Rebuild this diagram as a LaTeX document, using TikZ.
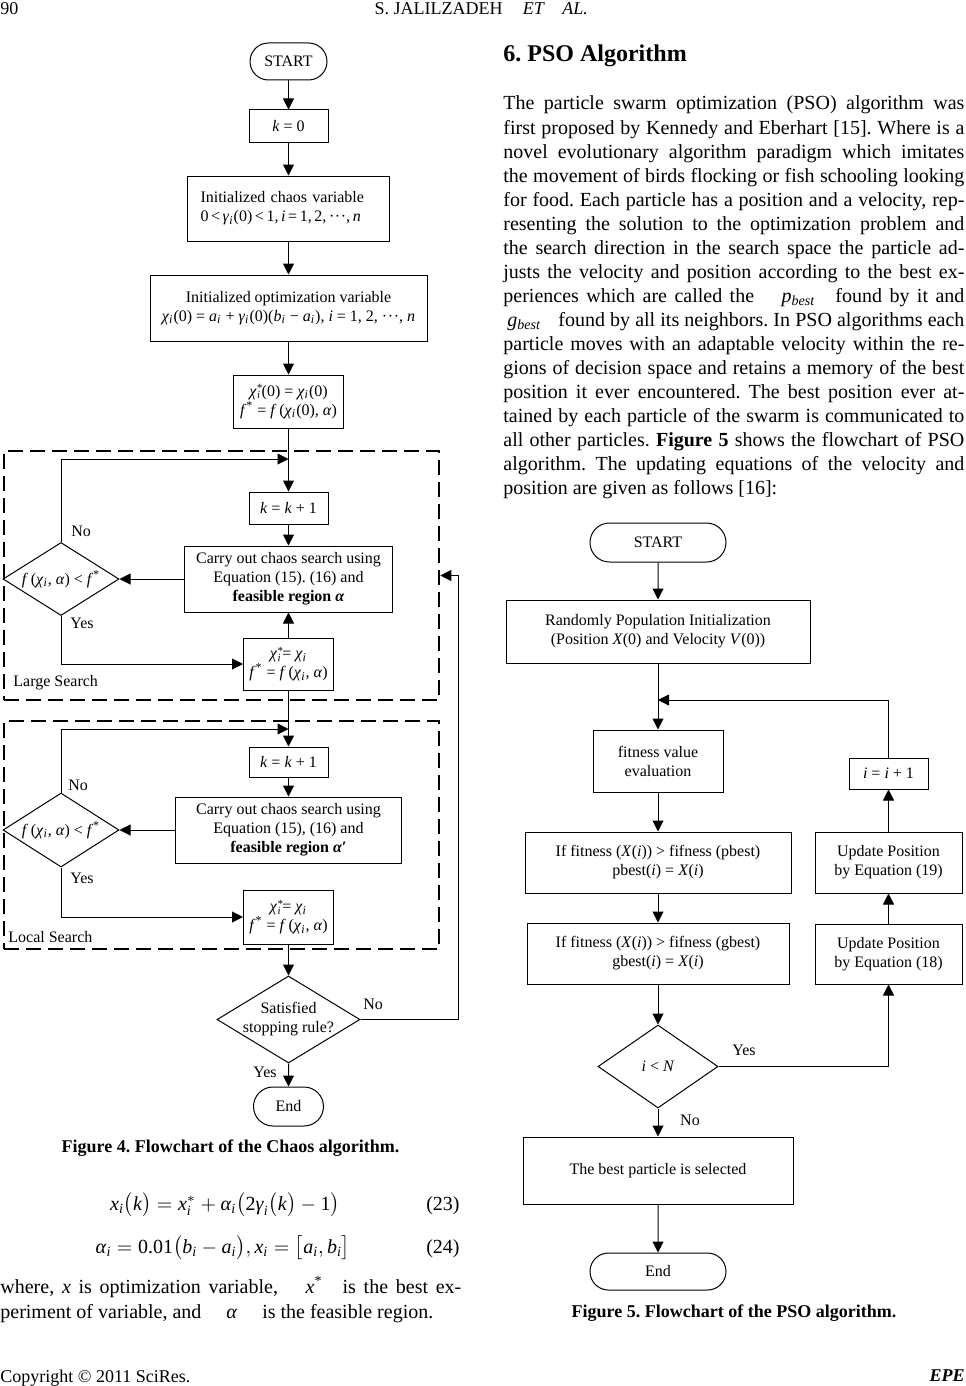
\documentclass[tikz,border=0pt]{standalone}
\usepackage{amsmath}
\usepackage{fontspec}
\setmainfont{Liberation Serif}
\usetikzlibrary{shapes.geometric,shapes.misc,arrows.meta}
\frenchspacing
\newcommand\ti[1]{\text{\textit{#1}}}
\newcommand\sub[1]{\textsubscript{\textit{#1}}}
\newcommand\jline[1]{\makebox[230.5pt][s]{#1}}
\newcommand\cds{·\kern0.3pt·\kern0.3pt·}
\newcommand\chistar{\textit{χ}\kern0.2pt\rlap{\raisebox{2.2pt}{\fontsize{5.5}{5}\selectfont*}}\raisebox{-1.4pt}{\fontsize{5.5}{5}\selectfont\textit{i}}\kern0.8pt}
\tikzset{
  fbox/.style={draw, line width=0.5pt, inner sep=0pt, align=center, font=\fontsize{8}{9.5}\selectfont},
  term/.style={fbox, rounded rectangle},
  dia/.style={draw, diamond, inner sep=0pt, line width=0.5pt},
  arr/.style={-{Triangle[length=5.5pt,width=5.5pt]}, line width=0.5pt},
  dbox/.style={draw, line width=1.3pt, dash pattern=on 7.5pt off 3.5pt, inner sep=0pt},
  lab/.style={font=\fontsize{8}{9.5}\selectfont, inner sep=0pt, align=center},
  body/.style={font=\fontsize{10}{12}\selectfont, inner sep=0pt, anchor=base west},
  small/.style={font=\fontsize{9}{11}\selectfont, inner sep=0pt},
}
\begin{document}
\begin{tikzpicture}[x=0.5pt,y=-0.5pt]
\useasboundingbox (0,0) rectangle (965,1386);
\fill[white] (0,0) rectangle (965,1386);

% header / footer
\node[small, anchor=base west] (pg) at (0,15) {90};
\node[small, anchor=base east] (hd1) at (503,15) {S. JALILZADEH};
\node[small, anchor=base] (hd2) at (534,15) {\textit{ET}};
\node[small, anchor=base] (hd3) at (575,15) {\textit{AL.}};
\node[small, anchor=base west] (cp) at (0,1382) {Copyright © 2011 SciRes.};
\node[small, anchor=base east] (epe) at (965,1381) {\textbf{\textit{EPE}}};

% ===== Figure 4 =====
\node[term, minimum width=38.5pt, minimum height=18.5pt] (s1) at (288.5,61.5) {START};
\node[fbox, minimum height=16pt, minimum width=39.5pt] (k0) at (288.5,126) {\textit{k} = 0};
\node[fbox, minimum width=101pt, minimum height=32.5pt, text width=88pt, align=left] (ic) at (288.5,208.5)
  {Initialized chaos variable\\\mbox{\spaceskip=1.3pt plus 0.2pt 0 < \textit{γ}\sub{i}(0) < 1, \textit{i} = 1, 2, \cds, \textit{n}}};
\node[fbox, minimum width=138.5pt, minimum height=33pt] (io) at (288.5,308)
  {Initialized optimization variable\\\textit{χ}\sub{i}(0) = \textit{a}\sub{i} + \textit{γ}\sub{i}(0)(\textit{b}\sub{i} − \textit{a}\sub{i}), \textit{i} = 1, 2, \cds, \textit{n}};
\node[fbox, minimum width=55pt, minimum height=26.5pt] (c0) at (288.5,401.5)
  {\chistar(0) = \textit{χ}\sub{i}(0)\\\textit{f}\textsuperscript{*} = \textit{f}\,(\textit{χ}\sub{i}(0), \textit{α})};

\node[dbox, minimum width=217.5pt, minimum height=124.5pt] (ls) at (221.5,575.5) {};
\coordinate (j1) at (288.5,459);
\node[fbox, minimum width=39.5pt, minimum height=16pt] (kk1) at (288.5,508) {\textit{k} = \textit{k} + 1};
\node[fbox, minimum width=104pt, minimum height=33pt] (ca1) at (288.5,579)
  {Carry out chaos search using\\Equation (15). (16) and\\\textbf{feasible region \textit{α}}};
\node[dia, minimum width=58pt, minimum height=36.5pt,
  label={[lab]center:\textit{f}\,(\textit{χ}\sub{i}, \textit{α}) < \textit{f}\textsuperscript{*}}] (d1) at (61,579) {};
\node[fbox, minimum width=45pt, minimum height=26pt] (ch1) at (288.5,664)
  {\chistar= \textit{χ}\sub{i}\\\textit{f}\textsuperscript{*} = \textit{f}\,(\textit{χ}\sub{i}, \textit{α})};
\node[lab, anchor=west] (no1) at (71,531) {No};
\node[lab, anchor=west] (yes1) at (70,623) {Yes};
\node[lab, anchor=west] (lsl) at (13,683) {Large Search};

\node[dbox, minimum width=217.5pt, minimum height=114pt] (lc) at (221.5,835) {};
\coordinate (j2) at (288.5,729);
\node[fbox, minimum width=39.5pt, minimum height=15pt] (kk2) at (288.5,762) {\textit{k} = \textit{k} + 1};
\node[fbox, minimum width=113pt, minimum height=33pt] (ca2) at (288.5,830)
  {Carry out chaos search using\\Equation (15), (16) and\\\textbf{feasible region \textit{α}′}};
\node[dia, minimum width=58pt, minimum height=37pt,
  label={[lab]center:\textit{f}\,(\textit{χ}\sub{i}, \textit{α}) < \textit{f}\textsuperscript{*}}] (d2) at (61,830) {};
\node[fbox, minimum width=45pt, minimum height=27pt] (ch2) at (288.5,917)
  {\chistar= \textit{χ}\sub{i}\\\textit{f}\textsuperscript{*} = \textit{f}\,(\textit{χ}\sub{i}, \textit{α})};
\node[lab, anchor=west] (no2) at (68,785) {No};
\node[lab, anchor=west] (yes2) at (70,878) {Yes};
\node[lab, anchor=west] (lcl) at (8,937) {Local Search};

\node[dia, minimum width=71.5pt, minimum height=43.5pt,
  label={[lab]center:Satisfied\\stopping rule?}] (st) at (288.5,1019.5) {};
\node[lab, anchor=west] (no3) at (363,1004) {No};
\node[lab, anchor=west] (yes3) at (253,1072) {Yes};
\node[term, minimum width=35pt, minimum height=19.5pt] (e1) at (288.5,1106.5) {End};
\coordinate (rx) at (458,575.5);

\draw[arr] (s1) -- (k0);
\draw[arr] (k0) -- (ic);
\draw[arr] (ic) -- (io);
\draw[arr] (io) -- (c0);
\draw[arr] (c0) -- (kk1);
\draw[arr] (d1.north) |- (j1);
\draw[arr] (kk1) -- (ca1);
\draw[arr] (ca1.west) -- (d1.east);
\draw[arr] (d1.south) |- (ch1.west);
\draw[arr] (ch1) -- (ca1);
\draw[arr] (ch1) -- (kk2);
\draw[arr] (d2.north) |- (j2);
\draw[arr] (kk2) -- (ca2);
\draw[arr] (ca2.west) -- (d2.east);
\draw[arr] (d2.south) |- (ch2.west);
\draw[arr] (ch2) -- (st);
\draw[arr] (st.east) -| (rx) -- (ls.east);
\draw[arr] (st) -- (e1);

% caption and equations
\node[font=\fontsize{9}{11}\selectfont\bfseries, anchor=base, inner sep=0pt] (cap4) at (230.5,1152) {Figure 4. Flowchart of the Chaos algorithm.};
\node[body, anchor=base] (eq23) at (225,1210)
  {$\ti{x}_{\ti{i}}\bigl(\ti{k}\bigr) = \ti{x}^{*}_{\ti{i}} + \ti{α}_{\ti{i}}\bigl(\text{2}\ti{γ}_{\ti{i}}\bigl(\ti{k}\bigr) - \text{1}\bigr)$};
\node[body, anchor=base east] (n23) at (460,1210) {(23)};
\node[body, anchor=base] (eq24) at (223,1253)
  {$\ti{α}_{\ti{i}} = \text{0.01}\bigl(\ti{b}_{\ti{i}} - \ti{a}_{\ti{i}}\bigr), \ti{x}_{\ti{i}} = \bigl[\ti{a}_{\ti{i}}, \ti{b}_{\ti{i}}\bigr]$};
\node[body, anchor=base east] (n24) at (460,1253) {(24)};
\node[body] (w1) at (0,1293) {\jline{where, \textit{x} is optimization variable, \quad\textit{x}\textsuperscript{*}\quad is the best ex-}};
\node[body] (w2) at (0,1318) {periment of variable, and \quad\textit{α}\quad\ is the feasible region.};

% ===== right column text =====
\node[font=\fontsize{12}{14}\selectfont\bfseries, anchor=base west, inner sep=0pt] (h6) at (503,62) {6. PSO Algorithm};
\foreach \t [count=\n] in {
 {\jline{The particle swarm optimization (PSO) algorithm was}},
 {\jline{first proposed by Kennedy and Eberhart [15]. Where is a}},
 {\jline{novel evolutionary algorithm paradigm which imitates}},
 {\jline{the movement of birds flocking or fish schooling looking}},
 {\jline{for food. Each particle has a position and a velocity, rep-}},
 {\jline{resenting the solution to the optimization problem and}},
 {\jline{the search direction in the search space the particle ad-}},
 {\jline{justs the velocity and position according to the best ex-}},
 {\jline{periences which are called the \quad\textit{p}\sub{best}\quad found by it and}},
 {\jline{\hspace{2pt}\textit{g}\sub{best}\hspace{6pt} found by all its neighbors. In PSO algorithms each}},
 {\jline{particle moves with an adaptable velocity within the re-}},
 {\jline{gions of decision space and retains a memory of the best}},
 {\jline{position it ever encountered. The best position ever at-}},
 {\jline{tained by each particle of the swarm is communicated to}},
 {\jline{all other particles. \textbf{Figure 5} shows the flowchart of PSO}},
 {\jline{algorithm. The updating equations of the velocity and}},
 {position are given as follows [16]:}}
 \node[body, name=t\n] at (503,{110+24*(\n-1)}) {\t};

% ===== Figure 5 =====
\node[term, minimum width=68pt, minimum height=19.5pt] (s2) at (658,542.5) {START};
\node[fbox, minimum width=152pt, minimum height=31.5pt] (rp) at (658,631.5)
  {Randomly Population Initialization\\(Position \textit{X}(0) and Velocity \textit{V}(0))};
\coordinate (j3) at (658,700);
\node[fbox, minimum width=65pt, minimum height=31pt] (fv) at (658,761) {fitness value\\evaluation};
\node[fbox, minimum width=133pt, minimum height=30.5pt] (pb) at (658,862.5)
  {If fitness (\textit{X}(\textit{i})) > fifness (pbest)\\pbest(\textit{i}) = \textit{X}(\textit{i})};
\node[fbox, minimum width=131pt, minimum height=30.5pt] (gb) at (658,953.5)
  {If fitness (\textit{X}(\textit{i})) > fifness (gbest)\\gbest(\textit{i}) = \textit{X}(\textit{i})};
\node[dia, minimum width=60pt, minimum height=41.5pt, label={[lab]center:\textit{i} < \textit{N}}] (d3) at (658,1066.5) {};
\node[fbox, minimum width=73.5pt, minimum height=30pt] (u18) at (888.5,954) {Update Position\\by Equation (18)};
\node[fbox, minimum width=73.5pt, minimum height=30.5pt] (u19) at (888.5,862.5) {Update Position\\by Equation (19)};
\node[fbox, minimum width=39.5pt, minimum height=15.5pt] (ii) at (888.5,773.5) {\textit{i} = \textit{i} + 1};
\node[fbox, minimum width=135pt, minimum height=33.5pt] (bp) at (658,1170.5) {The best particle is selected};
\node[term, minimum width=68pt, minimum height=18.5pt] (e2) at (658,1271.5) {End};
\node[lab] (yes4) at (744,1050) {Yes};
\node[lab] (no4) at (690,1120) {No};

\draw[arr] (s2) -- (rp);
\draw[arr] (rp) -- (fv);
\draw[arr] (ii.north) |- (j3);
\draw[arr] (fv) -- (pb);
\draw[arr] (pb) -- (gb);
\draw[arr] (gb) -- (d3);
\draw[arr] (d3.east) -| (u18.south);
\draw[arr] (u18) -- (u19);
\draw[arr] (u19) -- (ii);
\draw[arr] (d3) -- (bp);
\draw[arr] (bp) -- (e2);

\node[font=\fontsize{9}{11}\selectfont\bfseries, anchor=base, inner sep=0pt] (cap5) at (734,1317) {Figure 5. Flowchart of the PSO algorithm.};
\end{tikzpicture}
\end{document}
